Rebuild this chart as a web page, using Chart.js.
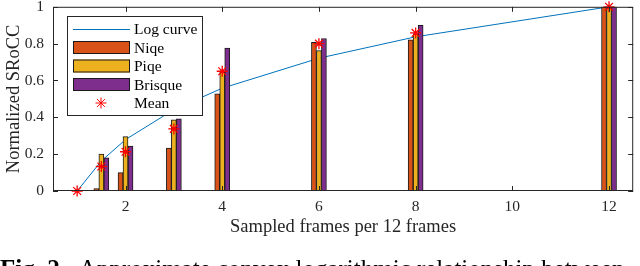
<!DOCTYPE html>
<html>
<head>
<meta charset="utf-8">
<script src="https://cdn.jsdelivr.net/npm/chart.js@4/dist/chart.umd.min.js"></script>
<style>
  html, body { margin: 0; padding: 0; background: #fff; overflow: hidden; }
  #wrap { position: relative; width: 640px; height: 266px; }
  #caption { position: absolute; left: 0; top: 256px; font: 25px/25px "Liberation Serif", serif; color: #000; white-space: nowrap; }
  #caption b { margin-right: 8px; }
</style>
</head>
<body>
<div id="wrap">
  <canvas id="chart"></canvas>
  <div id="caption"><b>Fig. 2.</b> Approximate convex logarithmic relationship between</div>
</div>
<script>
/* ---- data ---- */
const frames   = [1.5, 2, 3, 4, 6, 8, 12];
const niqe     = [0.013, 0.10, 0.233, 0.527, 0.807, 0.821, 1];
const piqe     = [0.20, 0.295, 0.387, 0.645, 0.762, 0.854, 1];
const brisque  = [0.18, 0.244, 0.392, 0.776, 0.828, 0.899, 1];

const curveFrames = [1, 1.5, 2, 3, 4, 6, 8, 12];
const logCurve    = [0, 0.163, 0.279, 0.442, 0.558, 0.721, 0.837, 1];
const meanVals    = [0, 0.133, 0.213, 0.337, 0.65, 0.80, 0.858, 1];

const xTicks = [2, 4, 6, 8, 10, 12];
const yTicks = [0, 0.2, 0.4, 0.6, 0.8, 1];

const AX = '#262626';
const FONT = '"Liberation Serif", serif';

const pts = (xs, ys) => xs.map((x, i) => ({ x, y: ys[i] }));

function barSet(label, values, color) {
  return { type: 'bar', label, data: pts(frames, values), backgroundColor: color,
    borderColor: '#1a1a1a', borderWidth: 1, borderSkipped: false, barThickness: 5, order: 1 };
}

// MATLAB style box with inward ticks on all four sides
const boxTicks = {
  id: 'boxTicks',
  afterDatasetsDraw(chart) {
    const { ctx, chartArea: a, scales: { x, y } } = chart;
    const len = 5;
    ctx.save();
    ctx.strokeStyle = AX; ctx.lineWidth = 1;
    ctx.strokeRect(a.left + 0.5, a.top + 0.5, a.width - 1, a.height - 1);
    ctx.beginPath();
    xTicks.forEach(v => {
      const px = Math.round(x.getPixelForValue(v)) + 0.5;
      ctx.moveTo(px, a.bottom); ctx.lineTo(px, a.bottom - len);
      ctx.moveTo(px, a.top); ctx.lineTo(px, a.top + len);
    });
    yTicks.forEach(v => {
      const py = Math.round(y.getPixelForValue(v)) + 0.5;
      ctx.moveTo(a.left, py); ctx.lineTo(a.left + len, py);
      ctx.moveTo(a.right, py); ctx.lineTo(a.right - len, py);
    });
    ctx.stroke();
    ctx.restore();
  }
};

// legend box in the upper left of the axes
const boxLegend = {
  id: 'boxLegend',
  afterDraw(chart) {
    const { ctx } = chart;
    const bx = 67, by = 16, bw = 135, bh = 99;
    const rows = [29, 47.5, 66, 84.5, 103];
    ctx.save();
    ctx.fillStyle = '#fff';
    ctx.fillRect(bx, by, bw, bh);
    ctx.strokeStyle = AX; ctx.lineWidth = 1;
    ctx.strokeRect(bx + 0.5, by + 0.5, bw, bh);
    ctx.font = '15.5px ' + FONT;
    ctx.textBaseline = 'middle';
    chart.data.datasets.forEach((ds, i) => {
      const cy = rows[i];
      if (ds.type === 'bar') {
        ctx.fillStyle = ds.backgroundColor;
        ctx.fillRect(73, cy - 6.5, 57, 13);
        ctx.strokeStyle = '#1a1a1a'; ctx.lineWidth = 1;
        ctx.strokeRect(73.5, cy - 6, 56, 12);
      } else if (ds.showLine === false) {
        ctx.strokeStyle = ds.pointBorderColor;
        ctx.fillStyle = ds.pointBackgroundColor;
        Chart.helpers.drawPoint(ctx, { pointStyle: 'star', radius: ds.pointRadius, borderWidth: ds.pointBorderWidth }, 101, cy);
      } else {
        ctx.strokeStyle = ds.borderColor; ctx.lineWidth = 1;
        ctx.beginPath(); ctx.moveTo(73, cy + 0.5); ctx.lineTo(130, cy + 0.5); ctx.stroke();
      }
      ctx.fillStyle = '#000';
      ctx.fillText(ds.label, 134, cy + 1);
    });
    ctx.restore();
  }
};

new Chart(document.getElementById('chart'), {
  type: 'bar',
  data: {
    datasets: [
      { type: 'line', label: 'Log curve', data: pts(curveFrames, logCurve), borderColor: '#0072BD',
        borderWidth: 1, pointRadius: 0, tension: 0, order: 2 },
      barSet('Niqe', niqe, '#D95319'),
      barSet('Piqe', piqe, '#EDB120'),
      barSet('Brisque', brisque, '#7E2F8E'),
      { type: 'line', label: 'Mean', data: pts(curveFrames, meanVals), showLine: false, clip: false,
        pointStyle: 'star', pointRadius: 5.5, pointBorderColor: '#FF0000', pointBackgroundColor: '#FF0000',
        pointBorderWidth: 1.3, borderColor: '#FF0000', order: 0 }
    ]
  },
  options: {
    responsive: true, maintainAspectRatio: false, animation: false,
    layout: { padding: { left: 0, top: 6, right: 6, bottom: 0 } },
    plugins: { legend: { display: false }, tooltip: { enabled: false } },
    scales: {
      x: {
        type: 'linear', min: 0.5, max: 12.5, offset: false,
        afterBuildTicks: s => { s.ticks = xTicks.map(v => ({ value: v })); },
        afterFit: s => { s.height = 75; s.paddingLeft = 0; s.paddingRight = 0; },
        grid: { display: false, drawTicks: false }, border: { display: false },
        ticks: { color: AX, font: { family: FONT, size: 15.5 }, padding: 7, callback: v => String(v) },
        title: { display: true, text: 'Sampled frames per 12 frames', color: AX,
          font: { family: FONT, size: 18.5 }, padding: { top: 0, bottom: 28 } }
      },
      y: {
        min: 0, max: 1,
        afterBuildTicks: s => { s.ticks = yTicks.map(v => ({ value: v })); },
        afterFit: s => { s.width = 53; s.paddingTop = 0; s.paddingBottom = 0; },
        grid: { display: false, drawTicks: false }, border: { display: false },
        ticks: { color: AX, font: { family: FONT, size: 15.5 }, padding: 9, callback: v => String(v) },
        title: { display: true, text: 'Normalized SRoCC', color: AX,
          font: { family: FONT, size: 18.5 }, padding: { top: 3, bottom: 0 } }
      }
    }
  },
  plugins: [boxTicks, boxLegend]
});
</script>
</body>
</html>
